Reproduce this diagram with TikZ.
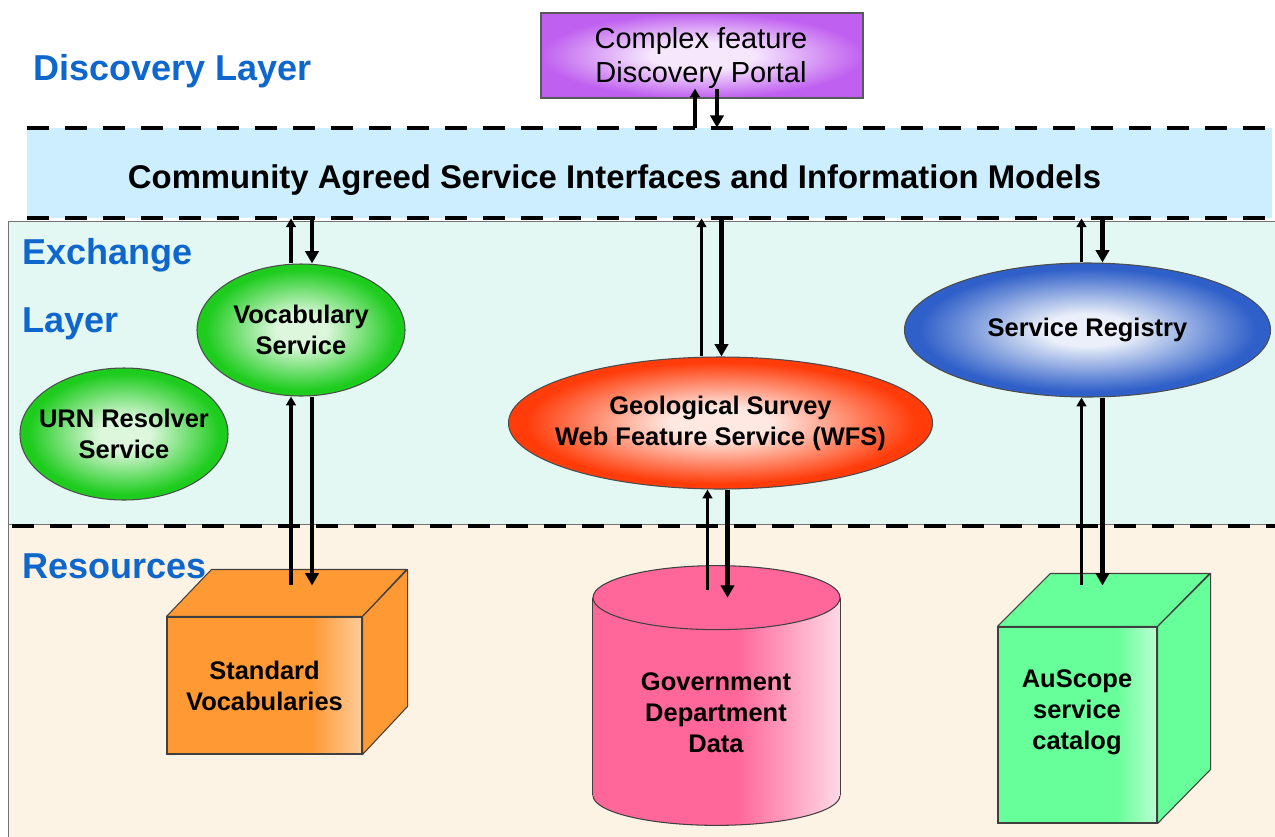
\documentclass[tikz,border=0pt]{standalone}
\usepackage{fontspec}
\setmainfont{Liberation Sans}
\usetikzlibrary{arrows.meta,shapes.geometric}
\newdimen\pxu \pxu=0.02cm
\newcommand\boxfont{\fontsize{14.5}{17.6}\selectfont\bfseries}
\definecolor{labelblue}{HTML}{0F66CC}
\definecolor{bandblue}{HTML}{CCEEFF}
\definecolor{exchbg}{HTML}{E3F8F3}
\definecolor{resbg}{HTML}{FDF3E4}
\definecolor{portalc}{HTML}{C060F0}
\definecolor{greenc}{HTML}{1ECC1E}
\definecolor{wfsc}{HTML}{FF3C0A}
\definecolor{regc}{HTML}{2F5FC8}
\definecolor{orangec}{HTML}{FF9933}
\definecolor{pinkc}{HTML}{FF6699}
\definecolor{mintc}{HTML}{66FF99}
\colorlet{portall}{portalc!15!white}
\colorlet{greenl}{greenc!15!white}
\colorlet{wfsl}{wfsc!12!white}
\colorlet{regl}{regc!10!white}
\colorlet{orangel}{orangec!50!white}
\colorlet{pinkl}{pinkc!25!white}
\colorlet{mintl}{mintc!45!white}
\pgfdeclareradialshading{glowportal}{\pgfpoint{0bp}{0bp}}{color(0bp)=(portall); color(8bp)=(portall); color(25bp)=(portalc); color(50bp)=(portalc)}
\pgfdeclareradialshading{glowgreen}{\pgfpoint{0bp}{0bp}}{color(0bp)=(greenl); color(6bp)=(greenl); color(23bp)=(greenc); color(50bp)=(greenc)}
\pgfdeclareradialshading{glowred}{\pgfpoint{0bp}{0bp}}{color(0bp)=(wfsl); color(6bp)=(wfsl); color(23bp)=(wfsc); color(50bp)=(wfsc)}
\pgfdeclareradialshading{glowblue}{\pgfpoint{0bp}{0bp}}{color(0bp)=(regl); color(6bp)=(regl); color(23bp)=(regc); color(50bp)=(regc)}
\pgfdeclarehorizontalshading{orangeface}{100bp}{color(0bp)=(orangec); color(25bp)=(orangec); color(62bp)=(orangec); color(75bp)=(orangel); color(100bp)=(orangel)}
\pgfdeclarehorizontalshading{mintface}{100bp}{color(0bp)=(mintc); color(25bp)=(mintc); color(62bp)=(mintc); color(75bp)=(mintl); color(100bp)=(mintl)}
\pgfdeclarehorizontalshading{pinkbody}{100bp}{color(0bp)=(pinkc); color(25bp)=(pinkc); color(54bp)=(pinkc); color(75bp)=(pinkl); color(100bp)=(pinkl)}
\begin{document}
\begin{tikzpicture}[x=0.02cm,y=-0.02cm,
  lbl/.style={font=\fontsize{20.5}{24}\selectfont\bfseries, text=labelblue, inner sep=0pt, anchor=base west},
  ell/.style={ellipse, draw=black!70, line width=0.6pt, inner xsep=-20\pxu, inner ysep=0pt, align=center, font=\boxfont},
  cubeface/.style={draw=black!75, line width=0.6pt, inner sep=0pt, align=center, font=\boxfont},
  facedraw/.style={draw=black!75, line width=0.6pt, line join=round},
  layerdash/.style={line width=2.4pt, dash pattern=on 22\pxu off 16\pxu},
  uparr/.style={-{Triangle[length=5pt,width=5.5pt]}, line width=1.9pt},
  dnarr/.style={-{Triangle[length=7pt,width=7.5pt]}, line width=2.4pt}]
\useasboundingbox (0,0) rectangle (1275,836);
\fill[white] (0,0) rectangle (1275,836);
% layers
\path[fill=exchbg, draw=black!55, line width=0.5pt] (8,221) rectangle (1290,524);
\path[fill=resbg, draw=black!55, line width=0.5pt] (8,524) rectangle (1290,850);
\node[fill=bandblue, minimum width=1245\pxu, minimum height=90\pxu, inner sep=0pt] (band) at (649.5,173) {};
\node[font=\fontsize{18.7}{22}\selectfont\bfseries, anchor=base, inner sep=0pt] (bandtext) at (614.5,188) {Community Agreed Service Interfaces and Information Models};
\draw[layerdash] (band.north west) -- (band.north east);
\draw[layerdash] (band.south west) -- (band.south east);
\draw[layerdash] (12,526) -- (1280,526);
% layer labels
\node[lbl] (ldisc) at (33,80) {Discovery Layer};
\node[lbl] (lexch) at (22,264) {Exchange};
\node[lbl] (llay) at (22,332) {Layer};
\node[lbl] (lres) at (22,578) {Resources};
% portal
\node[draw=black!65, line width=0.6pt, shading=glowportal, minimum width=322\pxu, minimum height=85\pxu, inner sep=0pt] (portal) at (702,55.5) {};
\node[align=center, font=\fontsize{16.5}{19.6}\selectfont, inner sep=0pt] (portaltext) at (701,58) {Complex feature\\Discovery Portal};
% services
\node[ell, shading=glowgreen, minimum width=208\pxu, minimum height=132\pxu] (voc) at (301,330) {Vocabulary\\Service};
\node[ell, shading=glowgreen, minimum width=208\pxu, minimum height=132\pxu] (urn) at (124,434) {URN Resolver\\Service};
\node[ell, shading=glowred, minimum width=424\pxu, minimum height=132\pxu] (wfs) at (720.5,423) {Geological Survey\\Web Feature Service (WFS)};
\node[ell, shading=glowblue, minimum width=366\pxu, minimum height=134\pxu] (reg) at (1087.5,330) {Service Registry};
% standard vocabularies cube
\node[cubeface, shading=orangeface, minimum width=195\pxu, minimum height=137\pxu] (std) at (264.5,685.5) {Standard\\Vocabularies};
\draw[facedraw, fill=orangec] (std.north west) -- ++(45,-47) -- ++(195,0) -- (std.north east) -- cycle;
\draw[facedraw, fill=orangec] (std.north east) -- ++(45,-47) -- ++(0,137) -- (std.south east) -- cycle;
% auscope cube
\node[cubeface, shading=mintface, minimum width=159\pxu, minimum height=196\pxu] (aus) at (1077.5,725) {};
\draw[facedraw, fill=mintc] (aus.north west) -- ++(53,-53) -- ++(159,0) -- (aus.north east) -- cycle;
\draw[facedraw, fill=mintc] (aus.north east) -- ++(53,-53) -- ++(0,196) -- (aus.south east) -- cycle;
\node[font=\boxfont, align=center, inner sep=0pt] (austext) at (1077,712) {AuScope\\service\\catalog};
% government cylinder
\node[inner sep=0pt, minimum width=247\pxu, minimum height=197\pxu] (gov) at (716.5,696.5) {};
\path[draw=black!75, line width=0.6pt, shading=pinkbody] (gov.south) ellipse [x radius=123.5\pxu, y radius=30\pxu];
\path[shading=pinkbody] (gov.south west) rectangle (gov.north east);
\draw[black!75, line width=0.6pt] (gov.south west) -- (gov.north west) (gov.south east) -- (gov.north east);
\path[draw=black!75, line width=0.6pt, fill=pinkc] (gov.north) ellipse [x radius=123.5\pxu, y radius=32\pxu];
\node[font=\boxfont, align=center, inner sep=0pt] (govtext) at (716,713) {Government\\Department\\Data};
% arrow end points on resources
\coordinate (stdtop) at ([yshift=31\pxu]std.north);
\coordinate (austop) at ([yshift=41\pxu]aus.north);
\coordinate (govtop) at ([yshift=8\pxu]gov.north);
% arrows: portal
\draw[uparr] ([xshift=-7\pxu]portal.south |- band.north) -- ([xshift=-7\pxu,yshift=10\pxu]portal.south);
\draw[dnarr] ([xshift=15\pxu,yshift=10\pxu]portal.south) -- ([xshift=15\pxu]portal.south |- band.north);
% vocabulary
\draw[uparr] ([xshift=-10\pxu]voc.north) -- ([xshift=-10\pxu]voc.north |- band.south);
\draw[dnarr] ([xshift=11\pxu]voc.north |- band.south) -- ([xshift=11\pxu]voc.north);
\draw[uparr] ([xshift=-10\pxu]voc.south |- stdtop) -- ([xshift=-10\pxu]voc.south);
\draw[dnarr] ([xshift=11\pxu]voc.south) -- ([xshift=11\pxu]voc.south |- stdtop);
% wfs
\draw[uparr] ([xshift=-19\pxu]wfs.north) -- ([xshift=-19\pxu]wfs.north |- band.south);
\draw[dnarr] ([xshift=1\pxu]wfs.north |- band.south) -- ([xshift=1\pxu]wfs.north);
\draw[uparr] ([xshift=-13\pxu]wfs.south |- govtop) -- ([xshift=-13\pxu]wfs.south);
\draw[dnarr] ([xshift=7\pxu]wfs.south) -- ([xshift=7\pxu]wfs.south |- gov.north);
% registry
\draw[uparr] ([xshift=-6\pxu]reg.north) -- ([xshift=-6\pxu]reg.north |- band.south);
\draw[dnarr] ([xshift=15\pxu]reg.north |- band.south) -- ([xshift=15\pxu]reg.north);
\draw[uparr] ([xshift=-6\pxu]reg.south |- austop) -- ([xshift=-6\pxu]reg.south);
\draw[dnarr] ([xshift=15\pxu]reg.south) -- ([xshift=15\pxu]reg.south |- austop);
\end{tikzpicture}
\end{document}
